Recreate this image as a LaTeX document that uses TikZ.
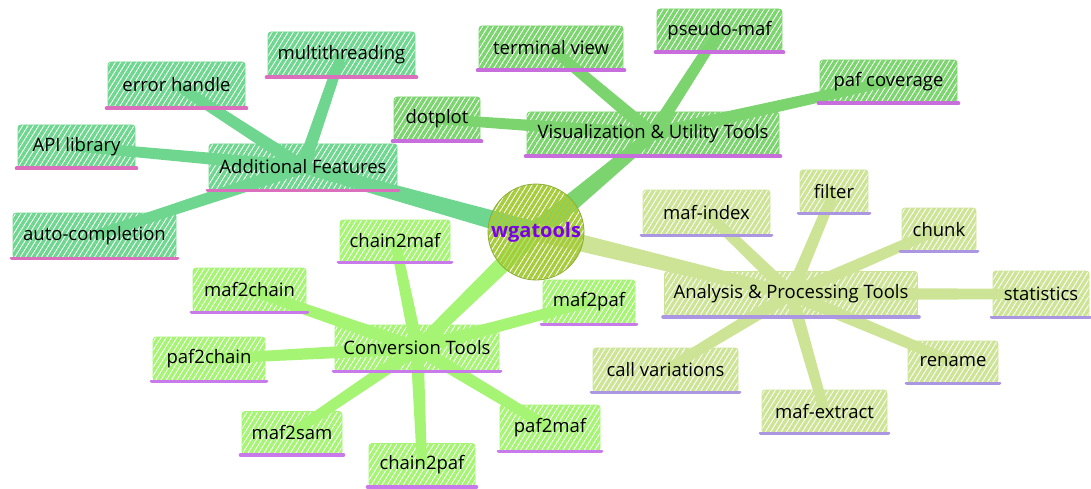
\documentclass[tikz,border=0pt]{standalone}
\usepackage{fontspec}
\setmainfont{Open Sans}
\usetikzlibrary{patterns.meta,calc}
\definecolor{cadd}{HTML}{6ED68F}
\definecolor{cvis}{HTML}{7BD46E}
\definecolor{cconv}{HTML}{A6F474}
\definecolor{canal}{HTML}{CDE496}
\definecolor{croot}{HTML}{A6CC3E}
\definecolor{uadd}{HTML}{DC6EBE}
\definecolor{uvis}{HTML}{C86EDC}
\definecolor{uconv}{HTML}{C87AEB}
\definecolor{uanal}{HTML}{AA96E1}
\definecolor{cpurp}{HTML}{7A00E6}
\pgfdeclarelayer{bg}
\pgfsetlayers{bg,main}
\tikzset{
  hatch/.style={pattern={Lines[angle=58,distance=4.5pt,line width=3.4pt]}, pattern color=#1, draw=#1, line width=0.8pt},
  box/.style={hatch=#1, rounded corners=3pt, inner sep=0pt, font=\fontsize{18.5}{20}\selectfont, text=black},
  uline/.style={line width=3.8pt, line cap=round, color=#1},
}
% tapered connector: from, to, start width, end width, colour
\newcommand\taper[5]{%
  \fill[#5] let \p1=(#1.center), \p2=(#2.center), \n1={atan2(\y2-\y1,\x2-\x1)} in
    ($(\p1)+(\n1+90:#3/2)$) -- ($(\p2)+(\n1+90:#4/2)$) -- ($(\p2)+(\n1-90:#4/2)$) -- ($(\p1)+(\n1-90:#3/2)$) -- cycle;
}
\begin{document}
\begin{tikzpicture}[x=1pt,y=-1pt]
\useasboundingbox (0,0) rectangle (1091,489);
% root
\node[circle, minimum size=96pt, hatch=croot, draw=croot!85!black, inner sep=0pt, text=cpurp, font=\fontsize{20}{22}\selectfont\bfseries] (root) at (536,232) {wgatools};
% branches
\node[box=cadd, minimum width=188pt, minimum height=46pt] (add) at (303,167) {Additional Features};
\node[box=cvis, minimum width=252pt, minimum height=44pt] (vis) at (653,134) {Visualization \& Utility Tools};
\node[box=cconv, minimum width=164pt, minimum height=46pt] (conv) at (417,348) {Conversion Tools};
\node[box=canal, minimum width=253pt, minimum height=45pt] (anal) at (791,294) {Analysis \& Processing Tools};
% additional leaves
\node[box=cadd, minimum width=117pt, minimum height=43pt] (api) at (76.5,146.5) {API library};
\node[box=cadd, minimum width=137pt, minimum height=46pt] (err) at (176.5,85) {error handle};
\node[box=cadd, minimum width=147pt, minimum height=45pt] (mt) at (341.5,54.5) {multithreading};
\node[box=cadd, minimum width=163pt, minimum height=45pt] (auto) at (94.5,235.5) {auto-completion};
% vis leaves
\node[box=cvis, minimum width=86pt, minimum height=44pt] (dot) at (437,119) {dotplot};
\node[box=cvis, minimum width=144pt, minimum height=44pt] (tv) at (551,48) {terminal view};
\node[box=cvis, minimum width=125pt, minimum height=43pt] (pm) at (719.5,30.5) {pseudo-maf};
\node[box=cvis, minimum width=137pt, minimum height=43pt] (pc) at (888.5,81.5) {paf coverage};
% conversion leaves
\node[box=cconv, minimum width=110pt, minimum height=42pt] (c2m) at (395,241) {chain2maf};
\node[box=cconv, minimum width=113pt, minimum height=44pt] (m2c) at (249.5,290) {maf2chain};
\node[box=cconv, minimum width=112pt, minimum height=44pt] (p2c) at (209,359) {paf2chain};
\node[box=cconv, minimum width=100pt, minimum height=43pt] (m2s) at (292,433) {maf2sam};
\node[box=cconv, minimum width=106pt, minimum height=43pt] (c2p) at (422,465) {chain2paf};
\node[box=cconv, minimum width=100pt, minimum height=46pt] (p2m) at (550,428) {paf2maf};
\node[box=cconv, minimum width=92pt, minimum height=44pt] (m2p) at (589,302) {maf2paf};
% analysis leaves
\node[box=canal, minimum width=127pt, minimum height=45pt] (mi) at (706.5,212.5) {maf-index};
\node[box=canal, minimum width=68pt, minimum height=43pt] (fil) at (834,191.5) {filter};
\node[box=canal, minimum width=74pt, minimum height=43pt] (chunk) at (939,229.5) {chunk};
\node[box=canal, minimum width=96pt, minimum height=46pt] (stat) at (1041,294) {statistics};
\node[box=canal, minimum width=90pt, minimum height=42pt] (ren) at (953,362) {rename};
\node[box=canal, minimum width=125pt, minimum height=43pt] (me) at (824.5,411.5) {maf-extract};
\node[box=canal, minimum width=145pt, minimum height=44pt] (cv) at (665.5,370) {call variations};
% underlines
\foreach \k/\c in {add/uadd,api/uadd,err/uadd,mt/uadd,auto/uadd,
  vis/uvis,dot/uvis,tv/uvis,pm/uvis,pc/uvis,
  conv/uconv,c2m/uconv,m2c/uconv,p2c/uconv,m2s/uconv,c2p/uconv,p2m/uconv,m2p/uconv,
  anal/uanal,mi/uanal,fil/uanal,chunk/uanal,stat/uanal,ren/uanal,me/uanal,cv/uanal}
  \draw[uline=\c] ([xshift=-1pt]\k.south west) -- ([xshift=1pt]\k.south east);
% edges
\begin{pgfonlayer}{bg}
\taper{root}{add}{20pt}{12pt}{cadd}
\taper{root}{vis}{20pt}{12pt}{cvis}
\taper{root}{conv}{18pt}{12pt}{cconv}
\taper{root}{anal}{18pt}{12pt}{canal}
\foreach \k in {api,err,mt,auto} {\taper{add}{\k}{13pt}{10pt}{cadd}}
\foreach \k in {dot,tv,pm,pc} {\taper{vis}{\k}{13pt}{10pt}{cvis}}
\foreach \k in {c2m,m2c,p2c,m2s,c2p,p2m,m2p} {\taper{conv}{\k}{13pt}{10pt}{cconv}}
\foreach \k in {mi,fil,chunk,stat,ren,me,cv} {\taper{anal}{\k}{13pt}{10pt}{canal}}
\end{pgfonlayer}
\end{tikzpicture}
\end{document}
